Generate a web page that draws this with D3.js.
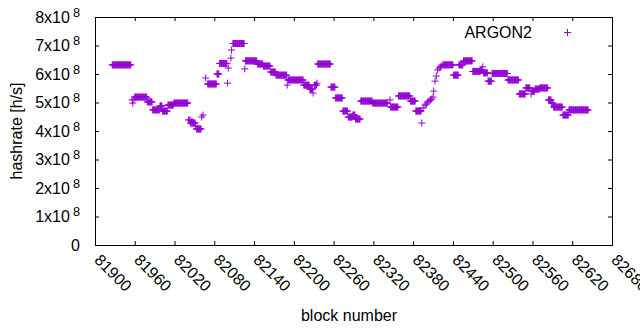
<!DOCTYPE html>
<html>
<head>
<meta charset="utf-8">
<script src="https://cdn.jsdelivr.net/npm/d3@7"></script>
<style>
    body { margin: 0; background: #fff; }
    svg { display: block; font-family: "Liberation Sans", Arial, sans-serif; }
    .axis text { font-size: 16px; fill: #000; }
    .axis line { stroke: #000; }
    .axis path { display: none; }
</style>
</head>
<body>
<script>
(function(){

    //runs of constant hashrate (block start, block end, hashrate in 1e8 h/s)
    var runStart = [81926, 81956, 81957, 81959, 81960, 81979, 81987, 81998, 82002, 82010, 82019, 82041,
        82043, 82044, 82045, 82046, 82047, 82048, 82052, 82053, 82061, 82063,
        82067, 82070, 82084, 82088, 82100, 82101, 82105, 82106, 82108, 82126, 82127, 82145, 82154, 82165, 82173,
        82190, 82191, 82215, 82224, 82229, 82231, 82235, 82236, 82256, 82263, 82274, 82282, 82289, 82293, 82301,
        82319, 82345, 82346, 82358, 82376, 82384, 82393,
        82395, 82398, 82400, 82402, 82404, 82406, 82408, 82410, 82411, 82413, 82415, 82417, 82419, 82421, 82423,
        82425, 82441, 82449, 82456, 82470, 82482, 82485, 82486, 82493, 82499, 82523, 82540, 82550, 82558, 82559,
        82564, 82571, 82584, 82589, 82592, 82606, 82615];
    var runEnd = [81954, 81956, 81957, 81959, 81978, 81986, 81997, 82001, 82009, 82018, 82040, 82041,
        82043, 82044, 82045, 82046, 82047, 82051, 82052, 82060, 82061, 82063,
        82067, 82083, 82087, 82099, 82100, 82101, 82105, 82106, 82125, 82126, 82144, 82153, 82164, 82172, 82189,
        82190, 82214, 82223, 82228, 82229, 82234, 82235, 82255, 82262, 82273, 82281, 82288, 82292, 82300, 82318,
        82341, 82345, 82357, 82375, 82383, 82392, 82393,
        82395, 82398, 82400, 82402, 82404, 82406, 82408, 82410, 82411, 82413, 82415, 82417, 82419, 82421, 82423,
        82440, 82448, 82455, 82469, 82481, 82484, 82485, 82492, 82498, 82522, 82539, 82549, 82556, 82558, 82563,
        82570, 82583, 82588, 82591, 82605, 82614, 82644];
    var runRate = [6.32, 5.09, 4.98, 5.12, 5.19, 5.02, 4.74, 4.88, 4.70, 4.91, 4.98, 4.39,
        4.39, 4.28, 4.35, 4.25, 4.32, 4.28, 4.18, 4.07, 4.49, 4.56,
        5.86, 5.65, 6.00, 6.37, 5.68, 6.21, 6.56, 6.84, 7.07, 6.18, 6.46, 6.35, 6.28, 6.07, 5.96,
        5.61, 5.79, 5.61, 5.47, 5.33, 5.61, 5.68, 6.35, 5.54, 5.16, 4.70, 4.49, 4.56, 4.42, 5.05,
        4.98, 5.09, 4.84, 5.23, 5.05, 4.70, 4.28,
        4.81, 4.91, 4.95, 5.02, 5.05, 5.09, 5.12, 5.19, 5.40, 5.75, 5.93, 6.14, 6.21, 6.25, 6.28,
        6.32, 5.96, 6.32, 6.46, 6.09, 6.14, 6.25, 6.04, 5.75, 6.02, 5.79, 5.30, 5.51, 5.30, 5.40,
        5.47, 5.51, 5.09, 4.98, 4.84, 4.56, 4.74];

    //axis ticks
    var xTicks = [81900, 81960, 82020, 82080, 82140, 82200, 82260, 82320, 82380, 82440, 82500, 82560, 82620, 82680];
    var yTicks = [0, 1e8, 2e8, 3e8, 4e8, 5e8, 6e8, 7e8, 8e8];
    var seriesName = "ARGON2";

    //chart frame dimensions
    var width = 640,
        height = 330,
        left = 95,
        right = 612,
        top = 17,
        bottom = 245,
        color = "#9400d3";

    var svg = d3.select("body")
        .append("svg")
        .attr("width", width)
        .attr("height", height);

    var x = d3.scaleLinear()
        .domain([xTicks[0], xTicks[xTicks.length - 1]])
        .range([left, right]);

    var y = d3.scaleLinear()
        .domain([yTicks[0], yTicks[yTicks.length - 1]])
        .range([bottom, top]);

    //one point per block inside each run
    var points = [];
    for (var i=0; i<runStart.length; i++){
        for (var b=runStart[i]; b<=runEnd[i]; b++){
            points.push({block: b, rate: runRate[i] * 1e8});
        };
    };

    //y axis with inward ticks and x10^n labels
    var yAxis = d3.axisLeft(y)
        .tickValues(yTicks)
        .tickSizeInner(-4)
        .tickSizeOuter(0)
        .tickPadding(15)
        .tickFormat(function(d){
            return d === 0 ? "0" : (d / 1e8) + "x10";
        });

    var yg = svg.append("g")
        .attr("class", "axis")
        .attr("transform", "translate(" + left + ",0)")
        .call(yAxis);

    yg.selectAll("text")
        .filter(function(d){ return d !== 0; })
        .append("tspan")
        .attr("dx", 3)
        .attr("dy", -6)
        .style("font-size", "12.8px")
        .text("8");

    //mirrored ticks on the right
    svg.append("g")
        .attr("class", "axis")
        .attr("transform", "translate(" + right + ",0)")
        .call(d3.axisRight(y).tickValues(yTicks).tickSizeInner(-4).tickSizeOuter(0).tickFormat(""));

    //x axis with rotated labels
    var xg = svg.append("g")
        .attr("class", "axis")
        .attr("transform", "translate(0," + bottom + ")")
        .call(d3.axisBottom(x).tickValues(xTicks).tickSizeInner(-4).tickSizeOuter(0).tickFormat(d3.format("d")));

    xg.selectAll("text")
        .attr("y", 0)
        .attr("dy", 0)
        .attr("text-anchor", "start")
        .attr("transform", "translate(-2,16) rotate(45)");

    svg.append("g")
        .attr("class", "axis")
        .attr("transform", "translate(0," + top + ")")
        .call(d3.axisTop(x).tickValues(xTicks).tickSizeInner(-4).tickSizeOuter(0).tickFormat(""));

    //frame
    svg.append("rect")
        .attr("x", left + 0.5)
        .attr("y", top + 0.5)
        .attr("width", right - left)
        .attr("height", bottom - top)
        .style("fill", "none")
        .style("stroke", "#000");

    //plus markers
    var plus = "M-3.5,0H3.5M0,-3.5V3.5";
    svg.selectAll(".pt")
        .data(points)
        .enter()
        .append("path")
        .attr("class", "pt")
        .attr("d", plus)
        .attr("transform", function(d){
            return "translate(" + x(d.block) + "," + y(d.rate) + ")";
        })
        .style("fill", "none")
        .style("stroke", color)
        .style("stroke-width", 1);

    //legend
    svg.append("text")
        .attr("x", 532)
        .attr("y", 38)
        .attr("text-anchor", "end")
        .style("font-size", "16px")
        .text(seriesName);

    svg.append("path")
        .attr("d", plus)
        .attr("transform", "translate(567.5,32.5)")
        .style("fill", "none")
        .style("stroke", color);

    //axis titles
    svg.append("text")
        .attr("transform", "translate(22,131) rotate(-90)")
        .attr("text-anchor", "middle")
        .style("font-size", "16px")
        .text("hashrate [h/s]");

    svg.append("text")
        .attr("x", 349)
        .attr("y", 321)
        .attr("text-anchor", "middle")
        .style("font-size", "16px")
        .text("block number");
})();
</script>
</body>
</html>
